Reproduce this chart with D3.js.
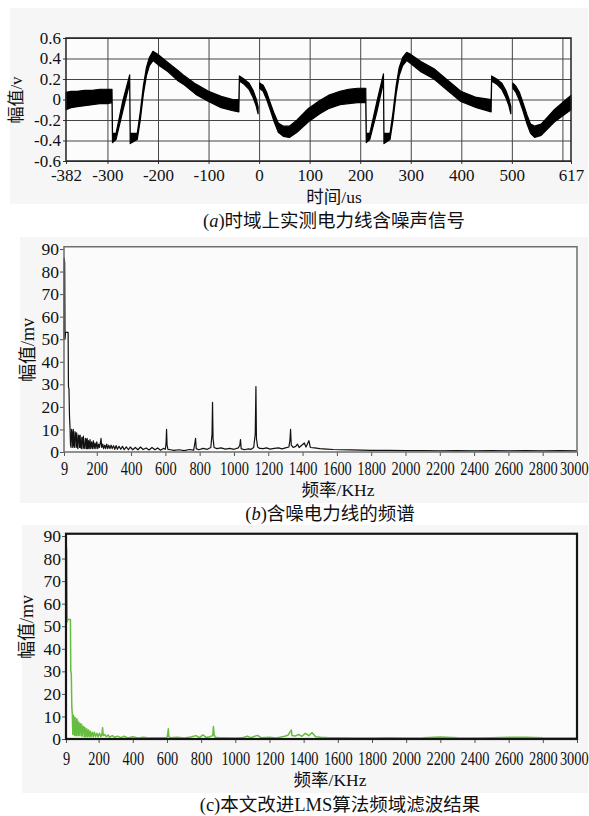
<!DOCTYPE html>
<html>
<head>
<meta charset="utf-8">
<script src="https://cdn.jsdelivr.net/npm/d3@7"></script>
<style>
  body { margin: 0; background: #fff; }
  svg { display: block; }
  text { font-family: "Liberation Serif", "Noto Sans CJK SC", serif; fill: #111; }
</style>
</head>
<body>
<svg id="chart" width="589" height="816"></svg>
<script>
// (a) time domain signal, read as upper / lower edge of the noisy trace (null = gap)
const aTime = [-382, -372, -360, -345, -330, -315, -300, -291,
  -290, -283, -270, -256, -255, -241, -235, -229, -223, -217, -210,
  -200, -180, -160, -150, -125, -100, -75, -52, -40,
  -39, -30, -20, -12, -6, -2, -1,
  1, 8, 15, 22, 30, 38, 48, 60, 75, 97, 120, 137, 160, 177, 195, 211,
  212, 219, 233, 246, 247, 259, 265, 271, 277, 284, 292,
  300, 320, 346, 370, 399, 430, 459,
  460, 470, 480, 488, 494, 498, 500,
  502, 508, 515, 522, 530, 537, 545, 558, 584, 600, 617];
const aHigh = [0.07, 0.08, 0.08, 0.09, 0.09, 0.10, 0.10, 0.10,
  -0.33, -0.33, -0.02, 0.24, -0.33, -0.33, -0.12, 0.13, 0.31, 0.41, 0.47,
  0.44, 0.36, 0.28, 0.24, 0.15, 0.08, 0.03, 0.0, 0.0,
  0.23, 0.20, 0.16, 0.09, 0.01, -0.07, null,
  0.16, 0.14, 0.07, -0.03, -0.14, -0.23, -0.26, -0.26, -0.20, -0.09, -0.01, 0.04, 0.08, 0.10, 0.11, 0.11,
  -0.33, -0.33, -0.02, 0.25, -0.33, -0.33, -0.12, 0.13, 0.31, 0.41, 0.46,
  0.44, 0.37, 0.30, 0.20, 0.08, 0.02, 0.0,
  0.23, 0.20, 0.16, 0.09, 0.01, -0.07, null,
  0.16, 0.13, 0.07, -0.03, -0.15, -0.24, -0.26, -0.24, -0.10, -0.03, 0.04];
const aLow = [-0.10, -0.08, -0.07, -0.06, -0.05, -0.04, -0.04, -0.03,
  -0.42, -0.39, -0.12, 0.16, -0.43, -0.39, -0.20, 0.05, 0.23, 0.33, 0.38,
  0.34, 0.27, 0.18, 0.15, 0.05, -0.02, -0.08, -0.11, -0.12,
  0.18, 0.15, 0.10, 0.02, -0.06, -0.14, null,
  0.11, 0.08, 0.0, -0.10, -0.22, -0.32, -0.36, -0.37, -0.32, -0.22, -0.14, -0.09, -0.05, -0.04, -0.03, -0.03,
  -0.42, -0.39, -0.12, 0.17, -0.43, -0.39, -0.20, 0.05, 0.23, 0.33, 0.38,
  0.35, 0.27, 0.20, 0.10, -0.02, -0.08, -0.12,
  0.18, 0.15, 0.10, 0.02, -0.06, -0.14, null,
  0.11, 0.07, -0.01, -0.11, -0.24, -0.33, -0.37, -0.35, -0.22, -0.16, -0.10];
const aGridX = [-300, -200, -100, 0, 100, 200, 300, 400, 500, 600];
const aTickX = [-382, -300, -200, -100, 0, 100, 200, 300, 400, 500, 617];
const aTickY = [0.6, 0.4, 0.2, 0, -0.2, -0.4, -0.6];

// (b) noisy spectrum
const bFreq = [9, 10, 13, 15, 18, 33, 35, 38, 41, 44, 47, 50, 53, 57, 60, 63, 67, 70, 73, 77, 80, 83, 87, 90,
  93, 97, 100, 103, 107, 110, 113, 117, 120, 122, 127, 131, 134, 137, 141, 144, 148, 152, 156, 161, 165,
  170, 175, 180, 185, 190, 195, 200, 206, 211, 216, 221, 225, 229, 235, 240, 247, 252, 258, 264, 270, 277,
  284, 290, 298, 305, 313, 320, 330, 340, 350, 360, 372, 385, 395, 410, 425, 440, 455, 470, 488, 505,
  522, 540, 555, 572, 588, 600, 604, 607, 610, 615, 630, 650, 680, 710, 740, 765, 772, 776, 780, 795,
  820, 845, 865, 872, 875, 878, 884, 900, 925, 950, 975, 1000, 1025, 1034, 1038, 1042, 1060, 1085, 1100,
  1115, 1124, 1128, 1131, 1138, 1150, 1170, 1190, 1210, 1235, 1260, 1280, 1300, 1320, 1326, 1330, 1334,
  1345, 1360, 1370, 1380, 1395, 1410, 1420, 1437, 1445, 1470, 1500, 1540, 1580, 1620, 1680, 1740, 1800,
  1900, 2000, 2100, 2200, 2300, 2400, 2500, 2600, 2700, 2800, 2900, 3000];
const bAmp = [50, 86, 84, 50, 53, 53, 29, 28, 16, 11, 3, 2, 10, 8, 2, 10, 3, 2, 9, 8, 2, 8.5, 2.5, 1.5,
  7.5, 7, 2, 7.5, 2, 1.5, 6.5, 6, 1.5, 7, 2, 1.5, 6, 5.5, 1.5, 6, 1.5, 5, 1.5, 5.5, 1.5,
  4.5, 1.5, 5, 1.5, 4, 1.5, 4.5, 1.5, 3.5, 2, 4, 6, 2, 3.5, 1.5, 3, 1.5, 3.5, 1.5, 3, 1.5,
  3, 1.5, 2.8, 1.2, 2.8, 1.2, 2.5, 1.2, 2.5, 1.0, 2.3, 1.0, 2.2, 1.0, 2.0, 1.0, 2.2, 1.1, 1.8, 0.9,
  2.0, 1.0, 1.8, 0.8, 1.6, 1.2, 4, 10, 3, 1.2, 1.0, 0.7, 1.0, 0.6, 1.1, 0.8, 4, 6, 1.5, 1.0,
  1.6, 1.2, 2.0, 8, 22, 6, 2.0, 1.5, 1.8, 1.3, 1.6, 1.2, 1.8, 3, 5.5, 1.5, 1.0, 1.4, 1.2,
  2.0, 8, 29, 6, 2.2, 1.6, 1.5, 1.8, 1.3, 1.6, 1.8, 1.4, 1.8, 2.2, 5, 10, 3,
  2.0, 2.5, 3.5, 2.0, 3, 4, 2.2, 5, 2.0, 1.8, 1.5, 1.3, 1.1, 1.0, 0.9, 0.8, 0.7,
  0.7, 0.6, 0.6, 0.5, 0.6, 0.5, 0.6, 0.5, 0.6, 0.5, 0.6, 0.5];

// (c) spectrum after LMS filtering
const cFreq = [9, 10, 13, 16, 19, 35, 37, 40, 43, 46, 49, 52, 56, 59, 62, 66, 69, 72, 75, 79, 82, 86, 89,
  93, 97, 100, 104, 108, 112, 116, 120, 125, 130, 135, 140, 145, 150, 155, 162, 168, 175, 182, 190, 197,
  205, 213, 219, 223, 227, 235, 245, 255, 265, 280, 295, 310, 330, 350, 370, 400, 430, 460, 500, 550,
  580, 600, 605, 608, 611, 620, 660, 700, 740, 770, 790, 810, 830, 850, 868, 872, 876, 882, 920, 1000,
  1040, 1070, 1090, 1130, 1150, 1200, 1240, 1290, 1310, 1328, 1332, 1350, 1370, 1390, 1410, 1430, 1450,
  1470, 1500, 1550, 1600, 1700, 1800, 1900, 2000, 2100, 2200, 2300, 2400, 2500, 2630, 2700, 2800, 2900, 3000];
const cAmp = [20, 86, 84, 52, 53, 53, 30, 29, 14, 11, 2, 10.5, 9, 1.5, 9.5, 2, 1.5, 9, 8, 1.5, 7.5, 1.5, 7,
  6.5, 1.5, 6.5, 1.2, 5.5, 5.5, 1, 5, 1, 4.5, 1, 4, 1, 3.5, 1, 3, 1, 3, 1, 2.5, 1,
  2.5, 1, 2, 5, 1.5, 2, 1, 1.8, 0.8, 1.5, 0.7, 1.3, 0.6, 1.2, 0.5, 1.0, 0.5, 0.8, 0.5, 0.6,
  0.5, 0.6, 2.5, 4.5, 1, 0.6, 0.8, 0.5, 0.9, 1.5, 0.6, 1.8, 0.7, 1.0, 1.5, 5.5, 2, 0.8, 0.5, 0.4,
  0.5, 1.2, 0.6, 1.6, 0.6, 0.8, 0.5, 1.2, 1.8, 4, 1.5, 1.3, 2.0, 1.2, 2.5, 1.5, 2.8,
  1.0, 0.8, 0.6, 0.5, 0.4, 0.4, 0.5, 0.4, 0.5, 0.9, 0.5, 0.4, 0.5, 0.8, 0.8, 0.5, 0.4, 0.4];

const freqTicks = [9, 200, 400, 600, 800, 1000, 1200, 1400, 1600, 1800, 2000, 2200, 2400, 2600, 2800, 3000];
const ampTicks = [0, 10, 20, 30, 40, 50, 60, 70, 80, 90];

const svg = d3.select('#chart');

// light panel backgrounds
svg.append('rect').attr('x', 10).attr('y', 8).attr('width', 578).attr('height', 196).attr('fill', '#f6f6f6');
svg.append('rect').attr('x', 20).attr('y', 237).attr('width', 568).attr('height', 266).attr('fill', '#f6f6f6');
svg.append('rect').attr('x', 22).attr('y', 525).attr('width', 566).attr('height', 268).attr('fill', '#f6f6f6');

// ---------- (a) ----------
const xA = d3.scaleLinear().domain([-382, 617]).range([66, 571]);
const yA = d3.scaleLinear().domain([-0.6, 0.6]).range([161, 38]);

svg.append('rect')
  .attr('x', xA(-382)).attr('y', yA(0.6))
  .attr('width', xA(617) - xA(-382)).attr('height', yA(-0.6) - yA(0.6))
  .attr('fill', '#fcfcfc');

// grid
svg.append('g')
  .attr('transform', 'translate(0,' + yA(-0.6) + ')')
  .call(d3.axisBottom(xA).tickValues(aGridX).tickSize(-(yA(-0.6) - yA(0.6))).tickFormat(''))
  .call(g => g.select('.domain').remove())
  .call(g => g.selectAll('line').attr('stroke', '#444').attr('stroke-width', 1));
svg.append('g')
  .attr('transform', 'translate(' + xA(-382) + ',0)')
  .call(d3.axisLeft(yA).tickValues(aTickY).tickSize(-(xA(617) - xA(-382))).tickFormat(''))
  .call(g => g.select('.domain').remove())
  .call(g => g.selectAll('line').attr('stroke', '#444').attr('stroke-width', 1));

// axes with labels
svg.append('g')
  .attr('transform', 'translate(0,' + yA(-0.6) + ')')
  .call(d3.axisBottom(xA).tickValues(aTickX).tickSize(3).tickPadding(5).tickFormat(d => String(d)))
  .call(g => g.select('.domain').remove())
  .call(g => g.selectAll('line').attr('stroke', '#333'))
  .call(g => g.selectAll('text').attr('font-size', 17).attr('fill', '#111')
    .attr('font-family', '"Liberation Serif", serif'));
svg.append('g')
  .attr('transform', 'translate(' + xA(-382) + ',0)')
  .call(d3.axisLeft(yA).tickValues(aTickY).tickSize(3).tickPadding(2).tickFormat(d => String(d)))
  .call(g => g.select('.domain').remove())
  .call(g => g.selectAll('line').attr('stroke', '#333'))
  .call(g => g.selectAll('text').attr('font-size', 17).attr('fill', '#111')
    .attr('font-family', '"Liberation Serif", serif'));

const bandA = d3.area()
  .defined((d, i) => aHigh[i] !== null)
  .x((d, i) => xA(aTime[i]))
  .y0((d, i) => yA(aLow[i]))
  .y1((d, i) => yA(aHigh[i]));

svg.append('path')
  .datum(aTime)
  .attr('d', bandA)
  .attr('fill', '#000')
  .attr('stroke', '#000')
  .attr('stroke-width', 1.2)
  .attr('stroke-linejoin', 'round');

svg.append('rect')
  .attr('x', xA(-382)).attr('y', yA(0.6))
  .attr('width', xA(617) - xA(-382)).attr('height', yA(-0.6) - yA(0.6))
  .attr('fill', 'none').attr('stroke', '#222').attr('stroke-width', 1.5);

svg.append('text')
  .attr('transform', 'translate(16,100) rotate(-90)')
  .attr('text-anchor', 'middle').attr('dominant-baseline', 'central')
  .attr('font-size', 17).text('幅值/v');
svg.append('text')
  .attr('x', 334).attr('y', 203).attr('text-anchor', 'middle')
  .attr('font-size', 17.5).text('时间/us');

function caption(x, y, letter, rest, italic) {
  const t = svg.append('text').attr('x', x).attr('y', y)
    .attr('text-anchor', 'middle').attr('font-size', 18.5);
  t.append('tspan').text('(');
  t.append('tspan').attr('font-style', italic ? 'italic' : 'normal').text(letter);
  t.append('tspan').text(')' + rest);
}
caption(334, 227, 'a', '时域上实测电力线含噪声信号', true);

// ---------- spectra ----------
function spectrum(opt) {
  const xs = d3.scaleLinear().domain([9, 3000]).range([opt.left, opt.right]);
  const ys = d3.scaleLinear().domain([0, 90]).range([opt.zero, opt.ninety]);
  const top = ys(91);

  svg.append('rect')
    .attr('x', xs(9)).attr('y', top)
    .attr('width', xs(3000) - xs(9)).attr('height', ys(0) - top)
    .attr('fill', '#fbfbfb');

  svg.append('g')
    .attr('transform', 'translate(0,' + ys(0) + ')')
    .call(d3.axisBottom(xs).tickValues(freqTicks).tickSize(4).tickPadding(opt.xpad).tickFormat(d => String(d)))
    .call(g => g.select('.domain').remove())
    .call(g => g.selectAll('line').attr('stroke', '#555'))
    .call(g => g.selectAll('text').attr('font-size', 18).attr('fill', '#111')
      .attr('font-family', '"Liberation Serif", serif')
      .attr('transform', 'scale(0.8,1)')
      .attr('dx', d => d === 3000 ? -4 : 0));

  svg.append('g')
    .attr('transform', 'translate(' + xs(9) + ',0)')
    .call(d3.axisLeft(ys).tickValues(ampTicks).tickSize(4).tickPadding(1).tickFormat(d => String(d)))
    .call(g => g.select('.domain').remove())
    .call(g => g.selectAll('line').attr('stroke', '#555'))
    .call(g => g.selectAll('text').attr('font-size', 17.5).attr('fill', '#111')
      .attr('font-family', '"Liberation Serif", serif'));

  const line = d3.line()
    .x((d, i) => xs(opt.freq[i]))
    .y((d, i) => ys(opt.amp[i]));

  svg.append('path')
    .datum(opt.freq)
    .attr('d', line)
    .attr('fill', 'none')
    .attr('stroke', opt.color)
    .attr('stroke-width', opt.lw)
    .attr('stroke-linejoin', 'round');

  svg.append('rect')
    .attr('x', xs(9)).attr('y', top)
    .attr('width', xs(3000) - xs(9)).attr('height', ys(0) - top)
    .attr('fill', 'none').attr('stroke', opt.frame).attr('stroke-width', opt.frameW);

  svg.append('text')
    .attr('transform', 'translate(' + opt.ylabX + ',' + opt.ylabY + ') rotate(-90)')
    .attr('text-anchor', 'middle').attr('dominant-baseline', 'central')
    .attr('font-size', 18).text('幅值/mv');
  svg.append('text')
    .attr('x', opt.xlabX).attr('y', opt.xlabY).attr('text-anchor', 'middle')
    .attr('font-size', 17.5).text('频率/KHz');
}

spectrum({
  left: 64, right: 577, zero: 452, ninety: 249, xpad: 6,
  freq: bFreq, amp: bAmp, color: '#111', lw: 1.2,
  frame: '#6e6e6e', frameW: 1.5,
  ylabX: 28, ylabY: 350, xlabX: 338, xlabY: 496
});
caption(330, 520, 'b', '含噪电力线的频谱', true);

spectrum({
  left: 66, right: 577, zero: 739, ninety: 536, xpad: 9,
  freq: cFreq, amp: cAmp, color: '#66bd3f', lw: 1.5,
  frame: '#151515', frameW: 2.2,
  ylabX: 27, ylabY: 627, xlabX: 330, xlabY: 786
});
caption(340, 811, 'c', '本文改进LMS算法频域滤波结果', false);
</script>
</body>
</html>
